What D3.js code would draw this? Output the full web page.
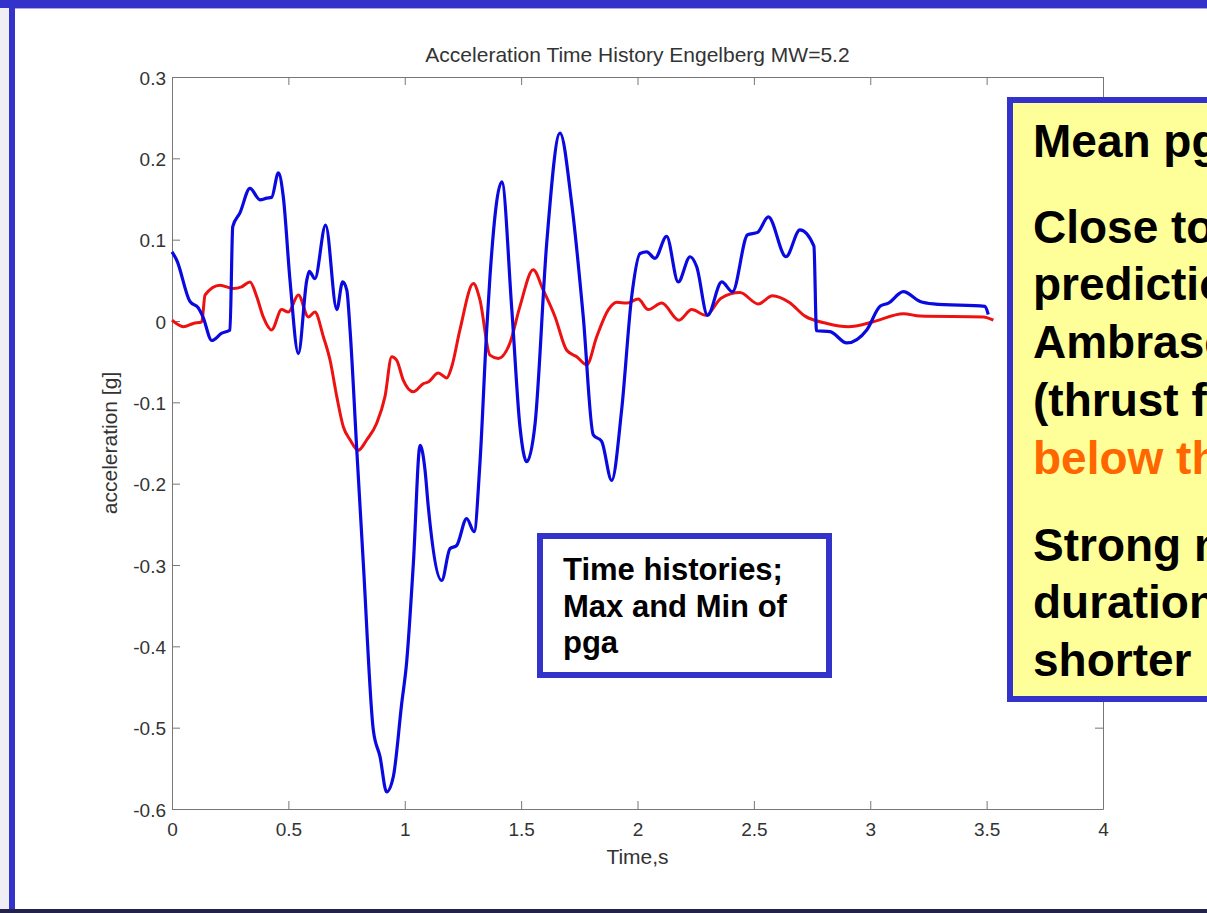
<!DOCTYPE html>
<html>
<head>
<meta charset="utf-8">
<script src="https://cdn.jsdelivr.net/npm/d3@7"></script>
<style>
  html, body { margin: 0; padding: 0; background: #ffffff; overflow: hidden; }
  svg { display: block; }
</style>
</head>
<body>
<svg id="chart" width="1207" height="913"></svg>
<script>
// ---------------- data ----------------
const chartTitle = "Acceleration Time History Engelberg MW=5.2";
const xAxisLabel = "Time,s";
const yAxisLabel = "acceleration [g]";

const xTicks = [0, 0.5, 1, 1.5, 2, 2.5, 3, 3.5, 4];
const xTickLabels = ["0", "0.5", "1", "1.5", "2", "2.5", "3", "3.5", "4"];
const yTicks = [0.3, 0.2, 0.1, 0, -0.1, -0.2, -0.3, -0.4, -0.5, -0.6];
const yTickLabels = ["0.3", "0.2", "0.1", "0", "-0.1", "-0.2", "-0.3", "-0.4", "-0.5", "-0.6"];

// Max record (blue)
const blueTime = [0.0, 0.020, 0.077, 0.113, 0.133, 0.171, 0.214, 0.249, 0.261, 0.292, 0.335, 0.378, 0.407, 0.428,
  0.457, 0.478, 0.507, 0.543, 0.579, 0.590, 0.614, 0.660, 0.708, 0.733, 0.751, 0.765, 0.794, 0.822, 0.865, 0.894,
  0.922, 0.951, 0.987, 1.008, 1.037, 1.066, 1.087, 1.101, 1.159, 1.194, 1.223, 1.266, 1.298, 1.323, 1.352, 1.366,
  1.417, 1.460, 1.495, 1.524, 1.560, 1.610, 1.667, 1.717, 1.767, 1.810, 1.846, 1.889, 1.932, 1.975, 2.011, 2.040,
  2.075, 2.125, 2.175, 2.226, 2.254, 2.301, 2.362, 2.408, 2.473, 2.516, 2.562, 2.638, 2.698, 2.758, 2.769, 2.827,
  2.899, 2.985, 3.042, 3.078, 3.142, 3.214, 3.271, 3.493, 3.507];
const blueAccel = [0.085, 0.075, 0.024, 0.016, 0.005, -0.024, -0.015, -0.011, 0.116, 0.133, 0.163, 0.149, 0.151, 0.152,
  0.182, 0.153, 0.050, -0.040, 0.050, 0.061, 0.052, 0.118, 0.014, 0.048, 0.038, -0.011, -0.159, -0.298, -0.503, -0.536,
  -0.579, -0.560, -0.470, -0.420, -0.298, -0.153, -0.183, -0.228, -0.319, -0.280, -0.276, -0.243, -0.259, -0.175, -0.011, 0.054,
  0.171, 0.014, -0.130, -0.173, -0.126, 0.096, 0.231, 0.145, 0.005, -0.140, -0.148, -0.196, -0.109, 0.030, 0.083, 0.085,
  0.077, 0.104, 0.048, 0.079, 0.067, 0.007, 0.048, 0.036, 0.106, 0.109, 0.128, 0.079, 0.112, 0.092, -0.012, -0.013,
  -0.027, -0.011, 0.018, 0.022, 0.036, 0.024, 0.021, 0.018, 0.008];

// Min record (red)
const redTime = [0.0, 0.049, 0.092, 0.128, 0.142, 0.206, 0.263, 0.299, 0.335, 0.364, 0.392, 0.428, 0.471, 0.500,
  0.543, 0.586, 0.614, 0.650, 0.679, 0.708, 0.736, 0.765, 0.800, 0.837, 0.879, 0.915, 0.944, 0.965, 0.994, 1.037,
  1.080, 1.101, 1.144, 1.180, 1.202, 1.237, 1.295, 1.323, 1.366, 1.402, 1.452, 1.495, 1.552, 1.595, 1.646, 1.696,
  1.739, 1.782, 1.825, 1.875, 1.911, 1.954, 2.003, 2.046, 2.104, 2.178, 2.233, 2.294, 2.359, 2.440, 2.519, 2.580,
  2.651, 2.720, 2.814, 2.906, 3.013, 3.142, 3.214, 3.486, 3.529];
const redAccel = [0.001, -0.007, -0.003, -0.001, 0.032, 0.044, 0.040, 0.042, 0.048, 0.030, 0.005, -0.011, 0.014, 0.011,
  0.032, 0.005, 0.011, -0.019, -0.048, -0.093, -0.130, -0.146, -0.159, -0.146, -0.126, -0.093, -0.044, -0.048, -0.073, -0.087,
  -0.077, -0.075, -0.064, -0.070, -0.056, -0.011, 0.046, 0.026, -0.042, -0.046, -0.027, 0.018, 0.063, 0.038, 0.005, -0.036,
  -0.044, -0.054, -0.019, 0.014, 0.023, 0.022, 0.027, 0.014, 0.022, 0.001, 0.014, 0.007, 0.028, 0.035, 0.021, 0.031,
  0.023, 0.006, -0.003, -0.007, -0.001, 0.009, 0.006, 0.005, 0.001];

const noteLines = ["Time histories;", "Max and Min of", "pga"];
const sideLines = ["Mean pga", "Close to", "prediction", "Ambraseys", "(thrust fault)", "below the", "Strong motion", "duration", "shorter"];
const sideHighlight = [false, false, false, false, false, true, false, false, false];

// ---------------- drawing ----------------
const svg = d3.select("#chart");
const W = 1207, H = 913;
const frameBlue = "#3333cc";

// slide frame
svg.append("rect").attr("x", 0).attr("y", 0).attr("width", W).attr("height", H).attr("fill", "#ffffff");
svg.append("rect").attr("x", 0).attr("y", 0).attr("width", 9).attr("height", H).attr("fill", "#eeeef4");
svg.append("rect").attr("x", 0).attr("y", 0).attr("width", W).attr("height", 8).attr("fill", frameBlue);
svg.append("rect").attr("x", 9).attr("y", 0).attr("width", 6).attr("height", H).attr("fill", frameBlue);
svg.append("rect").attr("x", 15).attr("y", 8).attr("width", W).attr("height", 1).attr("fill", "#a8a8e8");
svg.append("rect").attr("x", 0).attr("y", 909).attr("width", W).attr("height", 4).attr("fill", "#22224a");

const x = d3.scaleLinear().domain([0, 4]).range([172, 1103]);
const y = d3.scaleLinear().domain([-0.6, 0.3]).range([809, 77]);

const axisColor = "#777777";
const textColor = "#333333";
const fontFam = "'Liberation Sans', Arial, Helvetica, sans-serif";

function styleAxis(g) {
  g.select(".domain").attr("stroke", axisColor).attr("stroke-width", 1);
  g.selectAll(".tick line").attr("stroke", axisColor).attr("stroke-width", 1);
  g.selectAll(".tick text").attr("fill", textColor).style("font-family", fontFam).style("font-size", "19px");
}

const gx = svg.append("g").attr("transform", `translate(0,${y(-0.6)})`)
  .call(d3.axisBottom(x).tickValues(xTicks).tickFormat((d, i) => xTickLabels[i]).tickSizeInner(-8).tickSizeOuter(0).tickPadding(14));
styleAxis(gx);
const gxt = svg.append("g").attr("transform", `translate(0,${y(0.3)})`)
  .call(d3.axisTop(x).tickValues(xTicks).tickFormat("").tickSizeInner(-8).tickSizeOuter(0));
styleAxis(gxt);
const gy = svg.append("g").attr("transform", `translate(${x(0)},0)`)
  .call(d3.axisLeft(y).tickValues(yTicks).tickFormat((d, i) => yTickLabels[i]).tickSizeInner(-8).tickSizeOuter(0).tickPadding(6));
styleAxis(gy);
gy.selectAll(".tick text").attr("dy", "0.38em");
const gyr = svg.append("g").attr("transform", `translate(${x(4)},0)`)
  .call(d3.axisRight(y).tickValues(yTicks).tickFormat("").tickSizeInner(-8).tickSizeOuter(0));
styleAxis(gyr);

// title & axis labels
svg.append("text").attr("x", (x(0) + x(4)) / 2).attr("y", 62).attr("text-anchor", "middle")
  .attr("fill", textColor).style("font-family", fontFam).style("font-size", "21px").text(chartTitle);
svg.append("text").attr("x", (x(0) + x(4)) / 2).attr("y", 864).attr("text-anchor", "middle")
  .attr("fill", textColor).style("font-family", fontFam).style("font-size", "21px").text(xAxisLabel);
svg.append("text").attr("transform", `translate(117,${(y(0.3) + y(-0.6)) / 2}) rotate(-90)`).attr("text-anchor", "middle")
  .attr("fill", textColor).style("font-family", fontFam).style("font-size", "21px").text(yAxisLabel);

// series
const blueData = blueTime.map((t, i) => [t, blueAccel[i]]);
const redData = redTime.map((t, i) => [t, redAccel[i]]);
const line = d3.line().x(d => x(d[0])).y(d => y(d[1])).curve(d3.curveMonotoneX);

svg.append("path").datum(redData).attr("d", line).attr("fill", "none")
  .attr("stroke", "#ee1111").attr("stroke-width", 3).attr("stroke-linejoin", "round");
svg.append("path").datum(blueData).attr("d", line).attr("fill", "none")
  .attr("stroke", "#0a0ae0").attr("stroke-width", 3.2).attr("stroke-linejoin", "round");

// white annotation box
svg.append("rect").attr("x", 540).attr("y", 536).attr("width", 289).attr("height", 139)
  .attr("fill", "#ffffff").attr("stroke", frameBlue).attr("stroke-width", 6);
const noteBase = [580, 617, 653];
noteLines.forEach((s, i) => {
  svg.append("text").attr("x", 563).attr("y", noteBase[i]).attr("fill", "#000")
    .style("font-family", fontFam).style("font-weight", "bold").style("font-size", "31px").text(s);
});

// yellow side box (cut by the picture edge, as in the source slide)
svg.append("rect").attr("x", 1010).attr("y", 100).attr("width", 260).attr("height", 599)
  .attr("fill", "#ffff99").attr("stroke", frameBlue).attr("stroke-width", 6);
const sideBase = [157, 243, 300, 358, 416, 474, 561, 618, 676];
sideLines.forEach((s, i) => {
  svg.append("text").attr("x", 1033).attr("y", sideBase[i]).attr("fill", sideHighlight[i] ? "#ff6600" : "#000")
    .style("font-family", fontFam).style("font-weight", "bold").style("font-size", "46px").text(s);
});
</script>
</body>
</html>
